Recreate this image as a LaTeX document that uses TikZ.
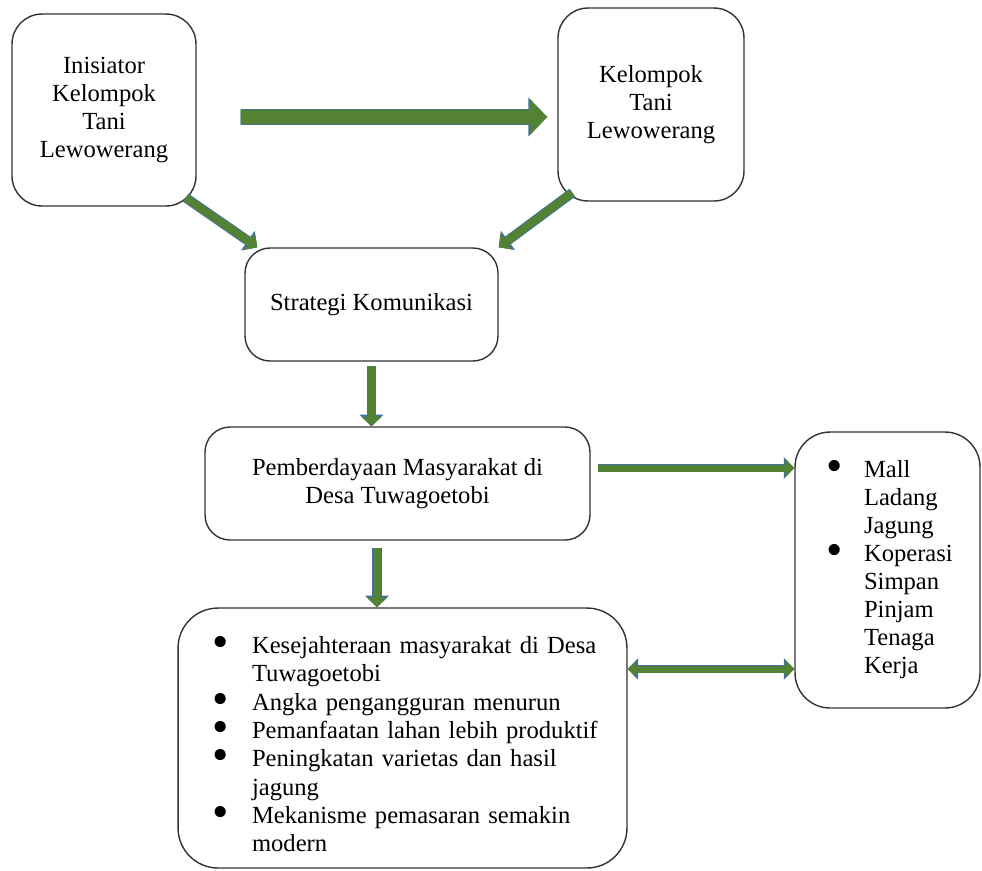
\documentclass[tikz,border=0pt]{standalone}
\usepackage{fontspec}
\setmainfont{Liberation Serif}
\usetikzlibrary{arrows.meta}
\definecolor{flowgreen}{RGB}{84,130,53}
\definecolor{flowblue}{RGB}{65,113,156}
\tikzstyle{box}=[draw=black!80, line width=0.8pt, rounded corners=0.6cm, align=center]
\tikzstyle{listbox}=[draw=black!80, line width=0.8pt, rounded corners=0.8cm, align=left]
\tikzset{flowarr/.style={draw=flowgreen, line width=#1, ->, >={Triangle[length=0pt 1.2, width=0pt 2.4]}, preaction={draw=flowblue, line width=#1+1pt}}}
\newcommand{\blt}{\hspace*{0.08cm}\raisebox{-2.2pt}{\scalebox{1.9}{\textbullet}}}

\begin{document}
\begin{tikzpicture}[x=0.02cm, y=-0.02cm, font=\fontsize{14}{15.9}\selectfont]
\useasboundingbox (0,0) rectangle (982,870);
% boxes
\node[box, minimum width=3.68cm, minimum height=3.84cm] (ini) at (104,110) {Inisiator\\Kelompok\\Tani\\Lewowerang};
\node[box, minimum width=3.72cm, minimum height=3.86cm] (kel) at (651,104.5) {Kelompok\\Tani\\Lewowerang};
\node[box, minimum width=5.06cm, minimum height=2.26cm, rounded corners=0.5cm] (strat) at (371.5,304.5) {Strategi Komunikasi};
\node[box, minimum width=7.7cm, minimum height=2.26cm, rounded corners=0.5cm] (pemb) at (397.5,483.5) {Pemberdayaan Masyarakat di\\Desa Tuwagoetobi};
\node[listbox, text width=2.6cm, inner xsep=0.55cm, minimum height=5.52cm, rounded corners=0.7cm] (sarana) at (887.5,570) {%
\begin{tabular}{@{}p{0.83cm}@{}l@{}}
\blt & Mall\\
 & Ladang\\
 & Jagung\\
\blt & Koperasi\\
 & Simpan\\
 & Pinjam\\
 & Tenaga\\
 & Kerja
\end{tabular}};
\node[listbox, text width=7.78cm, inner xsep=0.6cm, minimum height=5.2cm, font=\fontsize{14}{16.1}\selectfont] (hasil) at (402.5,738) {%
\raisebox{-0.18cm}[\height][\depth]{\begin{tabular}{@{}p{0.88cm}@{}l@{}}
\blt & Kesejahteraan masyarakat di Desa\\
 & Tuwagoetobi\\
\blt & Angka pengangguran menurun\\
\blt & Pemanfaatan lahan lebih produktif\\
\blt & Peningkatan varietas dan hasil\\
 & jagung\\
\blt & Mekanisme pemasaran semakin\\
 & modern
\end{tabular}}};
% arrows
\draw[flowarr=8pt] ([xshift=0.88cm,yshift=-0.14cm]ini.east) -- ([xshift=-0.2cm,yshift=-0.25cm]kel.west);
\draw[flowarr=4.5pt] ([xshift=-0.22cm,yshift=0.18cm]ini.south east) -- ([xshift=0.26cm]strat.north west);
\draw[flowarr=4.5pt] ([xshift=0.3cm,yshift=0.18cm]kel.south west) -- (strat.north east);
\draw[flowarr=4.5pt, shorten <=0.08cm] (strat.south) -- (strat.south |- pemb.north);
\draw[flowarr=4.5pt, shorten <=0.14cm] ([xshift=-0.41cm]pemb.south) -- ([xshift=-0.41cm]pemb.south |- hasil.north);
\coordinate (ps) at ([xshift=0.14cm,yshift=0.31cm]pemb.east);
\draw[flowarr=4pt] (ps) -- (ps -| sarana.west);
\coordinate (hs) at ([yshift=1.38cm]hasil.east);
\draw[flowarr=4pt, <->] (hs) -- (hs -| sarana.west);
\end{tikzpicture}
\end{document}
